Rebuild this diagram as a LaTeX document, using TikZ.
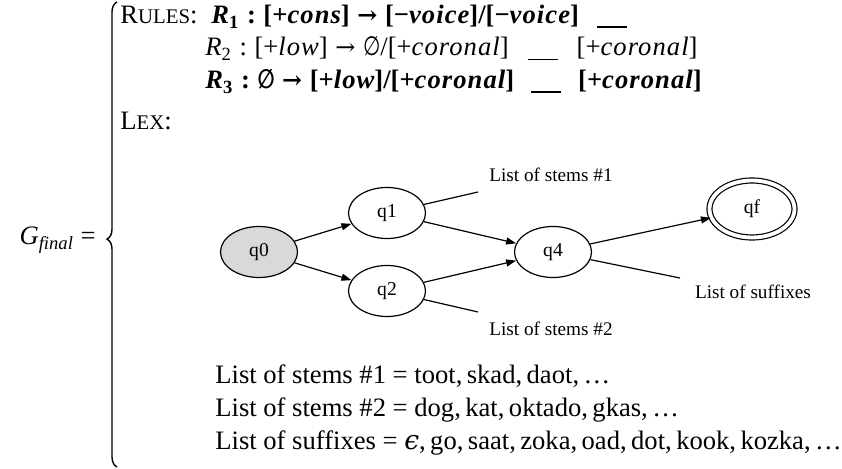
\documentclass[tikz,border=0pt]{standalone}
\usepackage{fontspec}
\setmainfont{Liberation Serif}
\newfontfamily\symfont{DejaVu Serif}
\newfontfamily\nulfont{DejaVu Sans}
\usetikzlibrary{arrows.meta,shapes,decorations.pathreplacing}

% small caps done by hand (the serif font has none)
\newcommand{\fakesc}[2]{#1{\fontsize{10.4}{12}\selectfont\MakeUppercase{#2}}}
\newcommand{\blank}[1][0.6pt]{\rule[-2pt]{15pt}{#1}}
\newcommand{\arr}{\hspace{3.8pt}{\symfont\scalebox{0.9}{→}}\hspace{3.8pt}}
\newcommand{\nul}{{\nulfont\scalebox{0.75}[1]{∅}}}
\newcommand{\feat}[1]{{\itshape\addfontfeature{LetterSpace=4}#1}}
\newcommand{\rulesep}{\hspace{3.8pt}:\hspace{3.8pt}}

\begin{document}
\begin{tikzpicture}[x=0.5pt,y=-0.5pt,
    every node/.style={font=\fontsize{13.3}{15}\selectfont},
    txt/.style={anchor=base west,inner sep=0pt},
    state/.style={ellipse,draw,line width=0.6pt,minimum width=38.5pt,minimum height=25.5pt,inner sep=0pt,font=\fontsize{9.8}{11}\selectfont},
    edge/.style={line width=0.6pt,-{Triangle[length=5pt,width=3.5pt]}},
    plain/.style={line width=0.6pt},
    listlbl/.style={font=\fontsize{9.6}{11}\selectfont}]
\useasboundingbox (0,0) rectangle (842,469);

% left hand side and the big brace
\node[anchor=base east,inner sep=0pt] (gname) at (96,245) {\textit{G}\textsubscript{\textit{final}} =};
\draw[line width=0.7pt,decorate,decoration={brace,amplitude=5pt,aspect=0.49}] (117,467) -- (117,2);

% rules
\node[txt] (rules) at (120,24) {\fakesc{R}{ules}:};
\node[txt] (r1) at (211,24)
  {\bfseries\textit{R}\textsubscript{1}\rulesep[+\feat{cons}]\arr[−\feat{voice}]/[−\feat{voice}]\hspace{9pt}\blank[1pt]};
\node[txt] (r2) at (205,56)
  {\textit{R}\textsubscript{2}\rulesep[+\feat{low}]\arr\nul/[+\feat{coronal}]\hspace{9.5pt}\blank\hspace{9.5pt}[+\feat{coronal}]};
\node[txt] (r3) at (205,89)
  {\bfseries\textit{R}\textsubscript{3}\rulesep\nul\arr[+\feat{low}]/[+\feat{coronal}]\hspace{8.5pt}\blank[1pt]\hspace{8.5pt}[+\feat{coronal}]};
\node[txt] (lex) at (120,130) {\fakesc{L}{ex}:};

% lexicon automaton
\node[state,fill=gray!30] (q0) at (259,252) {q0};
\node[state] (q1) at (387,213) {q1};
\node[state] (q2) at (387,291) {q2};
\node[state] (q4) at (553,252) {q4};
\node[state,double,double distance=1.9pt,minimum width=42.5pt,minimum height=28.5pt] (qf) at (752,209) {qf};

\node[listlbl] (stems1) at (551,175) {List of stems \#1};
\node[listlbl] (stems2) at (551,329) {List of stems \#2};
\node[listlbl] (sufx) at (753,292) {List of suffixes};
\coordinate (s1) at (478,192);
\coordinate (s2) at (478,312);
\coordinate (s3) at (680,278);

\draw[edge] (q0) -- (q1);
\draw[edge] (q0) -- (q2);
\draw[edge] (q1) -- (q4);
\draw[edge] (q2) -- (q4);
\draw[edge] (q4) -- (qf);
\draw[plain] (q1) -- (s1);
\draw[plain] (q2) -- (s2);
\draw[plain] (q4) -- (s3);

% the three lists
\node[txt] (l1) at (215,384) {List of stems \#1 = toot,\,skad,\,daot,\,\ldots};
\node[txt] (l2) at (215,417) {List of stems \#2 = dog,\,kat,\,oktado,\,gkas,\,\ldots};
\node[txt] (l3) at (215,450) {List of suffixes = \textit{{\symfont ϵ}},\,go,\,saat,\,zoka,\,oad,\,dot,\,kook,\,kozka,\,\ldots};
\end{tikzpicture}
\end{document}
